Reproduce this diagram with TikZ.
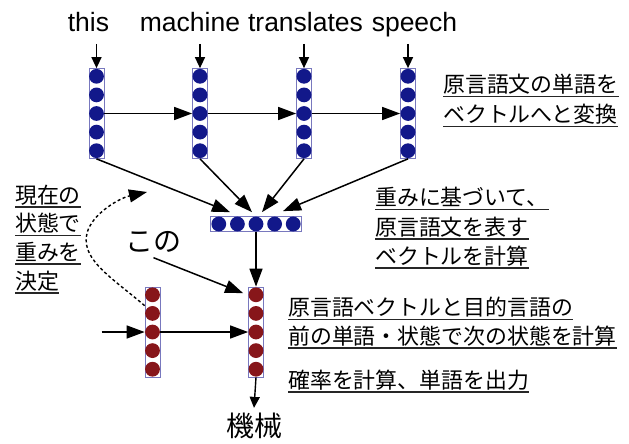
\documentclass[tikz,border=0pt]{standalone}
\usepackage{fontspec}
\setmainfont{Liberation Sans}
\newfontfamily\jpf{Noto Sans CJK JP}
\usetikzlibrary{arrows.meta}
\definecolor{encblue}{RGB}{18,24,138}
\definecolor{decred}{RGB}{135,22,26}
\definecolor{barline}{RGB}{120,120,190}
\tikzset{
  barbox/.style={draw=barline, line width=0.7pt, fill=white, inner sep=0pt},
  en/.style={font=\fontsize{26.5}{30}\selectfont, inner sep=0pt, anchor=base},
  jp/.style={font=\jpf\fontsize{21.9}{26}\selectfont, inner sep=0pt, anchor=base west},
  jpbig/.style={font=\jpf\fontsize{28}{32}\selectfont, inner sep=0pt},
  ulrule/.style={line width=1.5pt, draw=black!85},
  big/.style={-{Triangle[length=18pt,width=13pt]}, line width=1.5pt},
  small/.style={-{Triangle[length=11pt,width=10pt]}, line width=1.4pt},
  dashedarr/.style={-{Triangle[length=18pt,width=13pt]}, line width=1.4pt, dash pattern=on 3pt off 2.5pt},
}
\newcommand\vvec[4]{%
  \node[barbox,minimum width=15pt,minimum height=90pt] (#1) at (#2,#3) {};
  \foreach \k in {-2,...,2}{\fill[#4] ([yshift=\k*18.6pt]#1.center) circle[radius=7.4pt];}
}
\newcommand\hvec[4]{%
  \node[barbox,minimum width=91pt,minimum height=15pt] (#1) at (#2,#3) {};
  \foreach \k in {-2,...,2}{\fill[#4] ([xshift=\k*18.6pt]#1.center) circle[radius=7.4pt];}
}
\newcommand\ulnode[4]{%
  \node[jp] (#1) at (#2,#3) {#4};
  \draw[ulrule] ([yshift=-4pt]#1.base west) -- ([yshift=-4pt]#1.base east);
}
\begin{document}
\begin{tikzpicture}[x=1pt,y=-1pt]
\useasboundingbox (0,0) rectangle (629,444);

% source words
\node[en] (w1) at (88.5,31.5) {this};
\node[en] (w2) at (190,31.5) {machine};
\node[en] (w3) at (305.5,31.5) {translates};
\node[en] (w4) at (414.5,31.5) {speech};

% encoder vectors
\vvec{e1}{96.5}{113.5}{encblue}
\vvec{e2}{200}{113.5}{encblue}
\vvec{e3}{304}{113.5}{encblue}
\vvec{e4}{408}{113.5}{encblue}

\coordinate (s1) at (96.5,44);
\coordinate (s2) at (200,44);
\coordinate (s3) at (304,44);
\coordinate (s4) at (408,44);
\draw[small] (s1) -- (e1.north);
\draw[small] (s2) -- (e2.north);
\draw[small] (s3) -- (e3.north);
\draw[small] (s4) -- (e4.north);

\draw[big] (e1.east) -- (e2.west);
\draw[big] (e2.east) -- (e3.west);
\draw[big] (e3.east) -- (e4.west);

% attention vector
\hvec{att}{256}{224}{encblue}
\draw[big] (e1.south) -- ([xshift=-26pt,yshift=4pt]att.north);
\draw[big] (e2.south) -- ([xshift=-4pt,yshift=4pt]att.north);
\draw[big] (e3.south) -- ([xshift=6pt,yshift=4pt]att.north);
\draw[big] (e4.south) -- ([xshift=27pt,yshift=5pt]att.north);

% decoder vectors
\vvec{dA}{152.5}{332}{decred}
\vvec{dB}{256}{332}{decred}

\coordinate (din) at (101.7,332);
\draw[big] (din) -- (dA.west);
\draw[big] (dA.east) -- (dB.west);
\draw[big] (att.south) -- (dB.north);

\node[jpbig] (kono) at (153.5,242) {この};
\draw[big] ([yshift=-5pt]kono.south) -- ([xshift=-5pt,yshift=-6.5pt]dB.north west);

\node[jpbig] (out) at (254,426) {機械};
\draw[small] (dB.south) -- ([yshift=5pt]out.north);

% dashed feedback
\coordinate (dend) at (147,192);
\draw[dashedarr] ([yshift=-19pt]dA.north west) .. controls (110,276) and (78,258) .. (88,230)
   .. controls (95,212) and (120,198) .. (dend);

% left explanation
\ulnode{l1}{15}{203}{現在の}
\ulnode{l2}{15}{231.5}{状態で}
\ulnode{l3}{15}{260}{重みを}
\ulnode{l4}{15}{289}{決定}

% right explanations
\ulnode{r1}{443}{92.7}{原言語文の単語を}
\ulnode{r2}{443}{122.7}{ベクトルへと変換}

\ulnode{r3}{375}{205.5}{重みに基づいて、}
\ulnode{r4}{375}{235}{原言語文を表す}
\ulnode{r5}{375}{264}{ベクトルを計算}

\ulnode{r6}{288}{315.5}{原言語ベクトルと目的言語の}
\ulnode{r7}{288}{344}{前の単語・状態で次の状態を計算}

\ulnode{r8}{288}{388}{確率を計算、単語を出力}
\end{tikzpicture}
\end{document}
